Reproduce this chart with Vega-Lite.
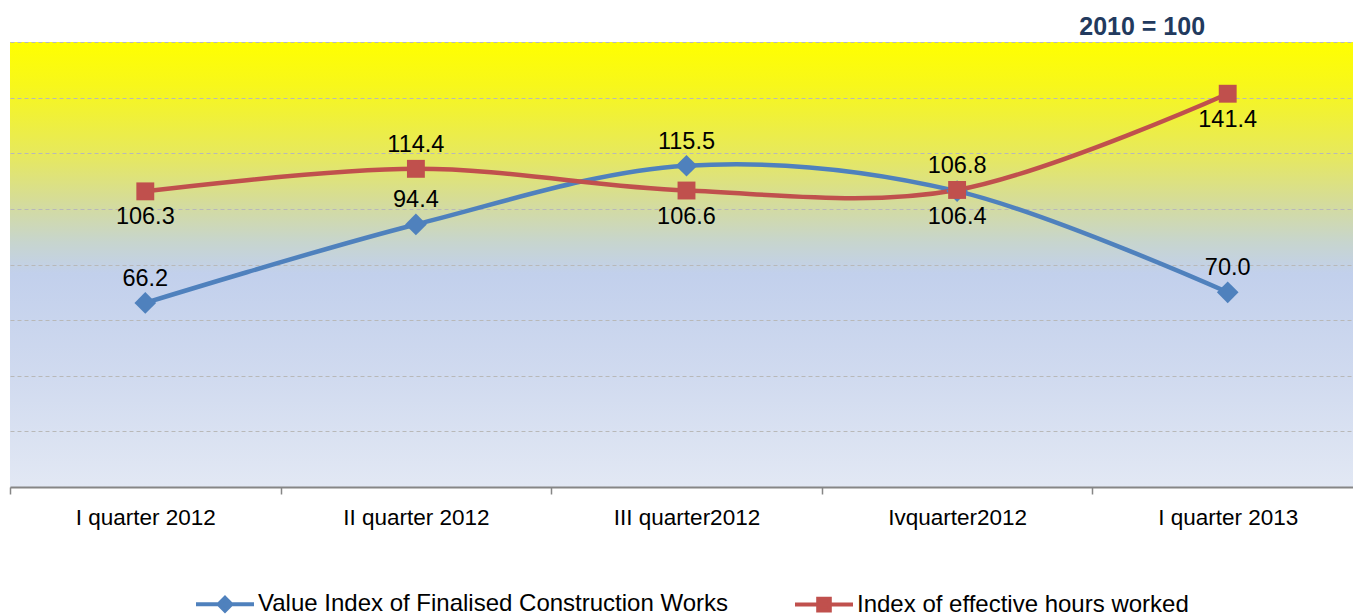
{
  "$schema": "https://vega.github.io/schema/vega-lite/v6.json",
  "width": 1353,
  "height": 445,
  "autosize": {"type": "none"},
  "padding": {"left": 10, "top": 42, "right": 0, "bottom": 129},
  "background": "white",
  "title": {"text": "2010 = 100", "anchor": "start", "dx": 1070, "dy": 24, "offset": 6, "baseline": "alphabetic", "fontSize": 25, "fontWeight": "bold", "font": "Liberation Sans", "color": "#223A5E"},
  "config": {
    "font": "Liberation Sans",
    "view": {
      "stroke": null,
      "fill": {"gradient": "linear", "x1": 0, "y1": 0, "x2": 0, "y2": 1, "stops": [
        {"offset": 0, "color": "#FFFF00"},
        {"offset": 0.1, "color": "#F7F71C"},
        {"offset": 0.25, "color": "#E7E95C"},
        {"offset": 0.36, "color": "#D5DC9A"},
        {"offset": 0.45, "color": "#C7D5CE"},
        {"offset": 0.52, "color": "#C2D0EC"},
        {"offset": 0.75, "color": "#D0DAEF"},
        {"offset": 1, "color": "#E2E8F4"}
      ]}
    },
    "axisX": {"tickBand": "extent", "domainColor": "#868686", "domainWidth": 2, "tickColor": "#868686", "tickWidth": 1.5, "tickSize": 7, "gridColor": "#B8B8B8", "gridWidth": 1, "gridDash": [4, 3], "labelFontSize": 22.5, "labelColor": "#000000", "labelPadding": 12, "labelAngle": 0, "title": null},
    "axisY": {"labels": false, "ticks": false, "domain": false, "gridColor": "#B8B8B8", "gridWidth": 1, "gridDash": [4, 3], "title": null},
    "legend": {"orient": "none", "legendX": 184, "legendY": 531, "direction": "horizontal", "title": null, "labelFontSize": 24, "labelLimit": 0, "labelColor": "#000000", "labelFont": "Liberation Sans", "symbolSize": 3364, "symbolStrokeWidth": 4, "columnPadding": 58, "labelOffset": 2}
  },
  "data": {"values": [
    {"quarter": "I quarter 2012", "series": "Value Index of Finalised Construction Works", "value": 66.2},
    {"quarter": "II quarter 2012", "series": "Value Index of Finalised Construction Works", "value": 94.4},
    {"quarter": "III quarter2012", "series": "Value Index of Finalised Construction Works", "value": 115.5},
    {"quarter": "Ivquarter2012", "series": "Value Index of Finalised Construction Works", "value": 106.4},
    {"quarter": "I quarter 2013", "series": "Value Index of Finalised Construction Works", "value": 70.0},
    {"quarter": "I quarter 2012", "series": "Index of effective hours worked", "value": 106.3},
    {"quarter": "II quarter 2012", "series": "Index of effective hours worked", "value": 114.4},
    {"quarter": "III quarter2012", "series": "Index of effective hours worked", "value": 106.6},
    {"quarter": "Ivquarter2012", "series": "Index of effective hours worked", "value": 106.8},
    {"quarter": "I quarter 2013", "series": "Index of effective hours worked", "value": 141.4}
  ]},
  "encoding": {
    "x": {"field": "quarter", "type": "nominal", "sort": null, "scale": {"type": "band", "paddingInner": 0, "paddingOuter": 0}},
    "y": {"field": "value", "type": "quantitative", "scale": {"domain": [0, 160]}, "axis": {"values": [0, 20, 40, 60, 80, 100, 120, 140, 160]}}
  },
  "layer": [
    {
      "mark": {"type": "line", "interpolate": "cardinal", "strokeWidth": 4.5},
      "encoding": {
        "color": {"field": "series", "type": "nominal", "sort": null,
          "scale": {"domain": ["Value Index of Finalised Construction Works", "Index of effective hours worked"], "range": ["#4F81BD", "#C0504D"]},
          "legend": {"encode": {"symbols": {"update": {
            "shape": {"signal": "datum.value == 'Value Index of Finalised Construction Works' ? 'M-1,0L1,0M0,-0.22L0.22,0L0,0.22L-0.22,0Z' : 'M-1,0L1,0M-0.2,-0.2L0.2,-0.2L0.2,0.2L-0.2,0.2Z'"},
            "fill": {"signal": "scale('color', datum.value)"},
            "stroke": {"signal": "scale('color', datum.value)"},
            "strokeWidth": {"value": 4},
            "opacity": {"value": 1}
          }}}}
        }
      }
    },
    {
      "transform": [{"filter": "datum.series == 'Value Index of Finalised Construction Works'"}],
      "mark": {"type": "point", "shape": "diamond", "filled": true, "opacity": 1, "size": 470},
      "encoding": {"color": {"field": "series", "type": "nominal", "sort": null}}
    },
    {
      "transform": [{"filter": "datum.series == 'Index of effective hours worked'"}],
      "mark": {"type": "point", "shape": "square", "filled": true, "opacity": 1, "size": 320},
      "encoding": {"color": {"field": "series", "type": "nominal", "sort": null}}
    },
    {
      "transform": [{"filter": "!(datum.value == 106.3 || datum.value == 106.6 || datum.value == 106.4 || datum.value == 141.4)"}],
      "mark": {"type": "text", "fontSize": 23.5, "baseline": "middle", "dy": -24, "color": "#000000"},
      "encoding": {"text": {"field": "value", "type": "quantitative", "format": ".1f"}}
    },
    {
      "transform": [{"filter": "datum.value == 106.3 || datum.value == 106.6 || datum.value == 106.4 || datum.value == 141.4"}],
      "mark": {"type": "text", "fontSize": 23.5, "baseline": "middle", "dy": 26, "color": "#000000"},
      "encoding": {"text": {"field": "value", "type": "quantitative", "format": ".1f"}}
    }
  ]
}
